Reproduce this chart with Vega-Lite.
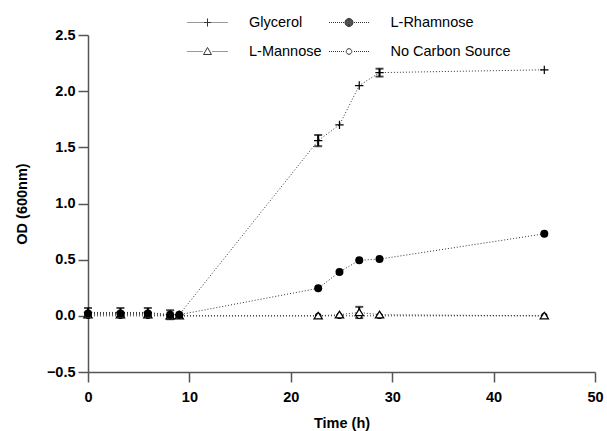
{
  "$schema": "https://vega.github.io/schema/vega-lite/v6.json",
  "autosize": {"type": "none"},
  "padding": {"left": 88, "top": 35, "right": 12, "bottom": 59},
  "width": 507,
  "height": 337,
  "background": "white",
  "config": {
    "view": {"stroke": null},
    "font": "Liberation Sans",
    "axis": {
      "grid": false,
      "labelFlush": false,
      "labelOverlap": false,
      "domainColor": "#555",
      "domainWidth": 1.5,
      "tickColor": "#555",
      "tickWidth": 1.5,
      "tickSize": 10,
      "labelFont": "Liberation Sans",
      "labelFontWeight": "bold",
      "labelFontSize": 14.5,
      "labelColor": "black",
      "titleFont": "Liberation Sans",
      "titleFontWeight": "bold",
      "titleFontSize": 14.5,
      "titleColor": "black"
    }
  },
  "data": {
    "values": [
      {"series": "No Carbon Source", "t": 0, "od": 0.0, "err": 0},
      {"series": "No Carbon Source", "t": 3.2, "od": 0.0, "err": 0},
      {"series": "No Carbon Source", "t": 5.9, "od": 0.0, "err": 0},
      {"series": "No Carbon Source", "t": 8.1, "od": 0.0, "err": 0},
      {"series": "No Carbon Source", "t": 9.0, "od": 0.0, "err": 0},
      {"series": "No Carbon Source", "t": 22.7, "od": 0.0, "err": 0},
      {"series": "No Carbon Source", "t": 24.8, "od": 0.0, "err": 0},
      {"series": "No Carbon Source", "t": 26.75, "od": 0.0, "err": 0},
      {"series": "No Carbon Source", "t": 28.75, "od": 0.0, "err": 0},
      {"series": "No Carbon Source", "t": 45, "od": 0.0, "err": 0},
      {"series": "L-Mannose", "t": 0, "od": 0.01, "err": 0},
      {"series": "L-Mannose", "t": 3.2, "od": 0.01, "err": 0},
      {"series": "L-Mannose", "t": 5.9, "od": 0.01, "err": 0},
      {"series": "L-Mannose", "t": 8.1, "od": 0.0, "err": 0},
      {"series": "L-Mannose", "t": 9.0, "od": 0.0, "err": 0},
      {"series": "L-Mannose", "t": 22.7, "od": 0.0, "err": 0},
      {"series": "L-Mannose", "t": 24.8, "od": 0.01, "err": 0},
      {"series": "L-Mannose", "t": 26.75, "od": 0.03, "err": 0.05},
      {"series": "L-Mannose", "t": 28.75, "od": 0.01, "err": 0},
      {"series": "L-Mannose", "t": 45, "od": 0.0, "err": 0},
      {"series": "Glycerol", "t": 0, "od": 0.03, "err": 0.04},
      {"series": "Glycerol", "t": 3.2, "od": 0.03, "err": 0.04},
      {"series": "Glycerol", "t": 5.9, "od": 0.03, "err": 0.04},
      {"series": "Glycerol", "t": 8.1, "od": 0.01, "err": 0.04},
      {"series": "Glycerol", "t": 9.0, "od": 0.01, "err": 0},
      {"series": "Glycerol", "t": 22.7, "od": 1.56, "err": 0.05},
      {"series": "Glycerol", "t": 24.8, "od": 1.70, "err": 0},
      {"series": "Glycerol", "t": 26.75, "od": 2.05, "err": 0},
      {"series": "Glycerol", "t": 28.75, "od": 2.165, "err": 0.035},
      {"series": "Glycerol", "t": 45, "od": 2.19, "err": 0},
      {"series": "L-Rhamnose", "t": 0, "od": 0.02, "err": 0},
      {"series": "L-Rhamnose", "t": 3.2, "od": 0.02, "err": 0},
      {"series": "L-Rhamnose", "t": 5.9, "od": 0.02, "err": 0},
      {"series": "L-Rhamnose", "t": 8.1, "od": 0.01, "err": 0},
      {"series": "L-Rhamnose", "t": 9.0, "od": 0.01, "err": 0},
      {"series": "L-Rhamnose", "t": 22.7, "od": 0.245, "err": 0},
      {"series": "L-Rhamnose", "t": 24.8, "od": 0.39, "err": 0},
      {"series": "L-Rhamnose", "t": 26.75, "od": 0.495, "err": 0},
      {"series": "L-Rhamnose", "t": 28.75, "od": 0.505, "err": 0},
      {"series": "L-Rhamnose", "t": 45, "od": 0.73, "err": 0}
    ]
  },
  "encoding": {
    "x": {
      "field": "t", "type": "quantitative",
      "scale": {"domain": [0, 50], "nice": false, "zero": false, "padding": 0},
      "axis": {"values": [0, 10, 20, 30, 40, 50], "title": "Time (h)", "labelPadding": 8, "titlePadding": 13}
    },
    "y": {
      "field": "od", "type": "quantitative",
      "scale": {"domain": [-0.5, 2.5], "nice": false, "zero": false, "padding": 0},
      "axis": {"values": [-0.5, 0, 0.5, 1, 1.5, 2, 2.5], "format": ".1f", "title": "OD (600nm)", "labelPadding": 3, "titlePadding": 17}
    }
  },
  "layer": [
    {
      "mark": {"type": "line", "color": "#333", "strokeDash": [1, 2], "strokeWidth": 1},
      "encoding": {"detail": {"field": "series"}}
    },
    {
      "transform": [{"filter": "datum.err > 0"}],
      "mark": {
        "type": "errorbar",
        "color": "black",
        "ticks": {"size": 8, "thickness": 2, "color": "black"},
        "rule": {"strokeWidth": 2, "color": "black"}
      },
      "encoding": {
        "y": {"field": "od", "type": "quantitative"},
        "yError": {"field": "err"}
      }
    },
    {
      "transform": [{"filter": "datum.series === 'No Carbon Source'"}],
      "mark": {"type": "point", "shape": "circle", "size": 28, "opacity": 1, "filled": false, "fill": "white", "stroke": "black", "strokeWidth": 1.2},
      "encoding": {}
    },
    {
      "transform": [{"filter": "datum.series === 'L-Mannose'"}],
      "mark": {"type": "point", "shape": "M0,-0.85L1,0.75L-1,0.75Z", "size": 70, "opacity": 1, "filled": false, "fill": "white", "stroke": "black", "strokeWidth": 1.2},
      "encoding": {}
    },
    {
      "transform": [{"filter": "datum.series === 'Glycerol'"}],
      "mark": {"type": "point", "shape": "M-1,0H1M0,-1V1", "size": 70, "opacity": 1, "filled": false, "stroke": "black", "strokeWidth": 1.2},
      "encoding": {}
    },
    {
      "transform": [{"filter": "datum.series === 'L-Rhamnose'"}],
      "mark": {"type": "point", "shape": "circle", "size": 64, "opacity": 1, "filled": true, "color": "black"},
      "encoding": {}
    },
    {
      "mark": {"type": "point", "opacity": 1, "size": 0, "filled": false, "stroke": "black", "strokeWidth": 1},
      "encoding": {
        "shape": {
          "field": "series", "title": null,
          "scale": {
            "domain": ["Glycerol", "L-Mannose", "L-Rhamnose", "No Carbon Source"],
            "range": [
              "M-1,0h0.05M-0.9,0h0.05M-0.8,0h0.05M-0.7,0h0.05M-0.6,0h0.05M-0.5,0h0.05M-0.4,0h0.05M-0.3,0h0.05M0.25,0h0.05M0.35,0h0.05M0.45,0h0.05M0.55,0h0.05M0.65,0h0.05M0.75,0h0.05M0.85,0h0.05M0.95,0h0.05M-0.2,0H0.2M0,-0.2V0.2",
              "M-1,0h0.05M-0.9,0h0.05M-0.8,0h0.05M-0.7,0h0.05M-0.6,0h0.05M-0.5,0h0.05M-0.4,0h0.05M-0.3,0h0.05M0.25,0h0.05M0.35,0h0.05M0.45,0h0.05M0.55,0h0.05M0.65,0h0.05M0.75,0h0.05M0.85,0h0.05M0.95,0h0.05M0,-0.2L0.2,0.15L-0.2,0.15Z",
              "M-1,0h0.05M-0.9,0h0.05M-0.8,0h0.05M-0.7,0h0.05M-0.6,0h0.05M-0.5,0h0.05M-0.4,0h0.05M-0.3,0h0.05M0.25,0h0.05M0.35,0h0.05M0.45,0h0.05M0.55,0h0.05M0.65,0h0.05M0.75,0h0.05M0.85,0h0.05M0.95,0h0.05M-0.2,0A0.2,0.2,0,1,0,0.2,0A0.2,0.2,0,1,0,-0.2,0ZM-0.17,0A0.17,0.17,0,1,0,0.17,0A0.17,0.17,0,1,0,-0.17,0ZM-0.14,0A0.14,0.14,0,1,0,0.14,0A0.14,0.14,0,1,0,-0.14,0ZM-0.11,0A0.11,0.11,0,1,0,0.11,0A0.11,0.11,0,1,0,-0.11,0ZM-0.08,0A0.08,0.08,0,1,0,0.08,0A0.08,0.08,0,1,0,-0.08,0ZM-0.05,0A0.05,0.05,0,1,0,0.05,0A0.05,0.05,0,1,0,-0.05,0ZM-0.02,0A0.02,0.02,0,1,0,0.02,0A0.02,0.02,0,1,0,-0.02,0Z",
              "M-1,0h0.05M-0.9,0h0.05M-0.8,0h0.05M-0.7,0h0.05M-0.6,0h0.05M-0.5,0h0.05M-0.4,0h0.05M-0.3,0h0.05M0.25,0h0.05M0.35,0h0.05M0.45,0h0.05M0.55,0h0.05M0.65,0h0.05M0.75,0h0.05M0.85,0h0.05M0.95,0h0.05M-0.14,0A0.14,0.14,0,1,0,0.14,0A0.14,0.14,0,1,0,-0.14,0Z"
            ]
          },
          "legend": {
            "orient": "none",
            "legendX": 99,
            "legendY": -33,
            "columns": 2,
            "values": ["Glycerol", "L-Mannose", "L-Rhamnose", "No Carbon Source"],
            "columnPadding": 4.5,
            "rowPadding": 2,
            "padding": 0,
            "symbolSize": 1600,
            "symbolStrokeWidth": 1,
            "symbolStrokeColor": "#333",
            "symbolFillColor": "white",
            "symbolOpacity": 1,
            "labelFont": "Liberation Sans",
            "labelFontSize": 14.5,
            "labelColor": "black",
            "labelOffset": 21,
            "labelLimit": 300
          }
        }
      }
    }
  ]
}
